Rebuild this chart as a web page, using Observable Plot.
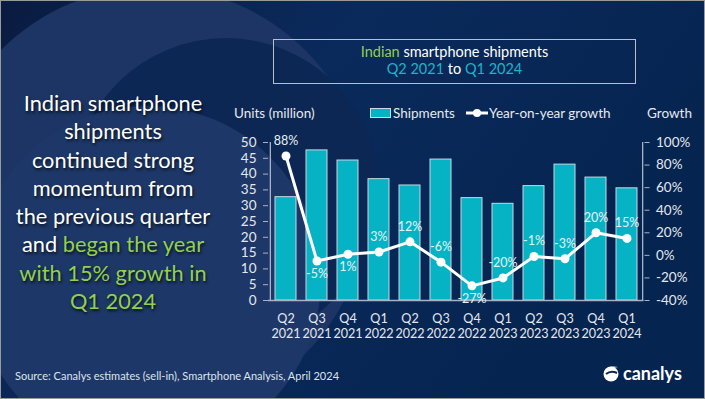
<!DOCTYPE html>
<html>
<head>
<meta charset="utf-8">
<script src="https://cdn.jsdelivr.net/npm/d3@7"></script>
<script src="https://cdn.jsdelivr.net/npm/@observablehq/plot@0.6"></script>
<style>
html,body{margin:0;padding:0;background:#0a2756;}
#wrap{position:relative;width:705px;height:399px;overflow:hidden;font-family:Lato,"Open Sans",sans-serif;color:#fff;}
#wrap > *{position:absolute;}
#bg{left:0;top:0;}
#chart{left:0;top:0;width:705px;height:399px;}
#lead{left:0;top:89px;width:226px;text-align:center;font-size:21.8px;line-height:28.3px;color:#fff;text-shadow:1px 2px 3px rgba(0,0,0,0.75);}
.g{color:#92d050;}
.t{color:#1db4c8;}
#titlebox{left:273px;top:39px;width:361px;border:1.5px solid #b9bec8;text-align:center;font-size:14.5px;line-height:16.5px;padding-top:4px;box-sizing:content-box;height:39px;}
.leg{top:104px;font-size:13.5px;color:#e6e9ef;line-height:18px;white-space:nowrap;}
#foot{left:15px;top:369px;font-size:11px;color:#dfe3ea;white-space:nowrap;}
#logo{left:602px;top:362px;display:flex;align-items:center;gap:3px;font-size:18px;font-weight:700;color:#fff;}
#frame{left:0;top:0;width:703px;height:397px;border:1px solid #9a9a9a;pointer-events:none;}
</style>
</head>
<body>
<div id="wrap">
<svg id="bg" width="705" height="399">
  <defs>
    <linearGradient id="base" x1="0" y1="0" x2="1" y2="0.4">
      <stop offset="0" stop-color="#0a1b40"/>
      <stop offset="0.45" stop-color="#0a2a5c"/>
      <stop offset="1" stop-color="#05244f"/>
    </linearGradient>
  </defs>
  <rect width="705" height="399" fill="url(#base)"/>
  <circle cx="153" cy="202" r="215" fill="#1c3565"/>
  <circle cx="226" cy="191" r="153" fill="#0c2753"/>
  <circle cx="147" cy="280" r="174" fill="#1d3868"/>
</svg>
<div id="chart"></div>
<div id="lead">Indian smartphone<br>shipments<br>continued strong<br>momentum from<br>the previous quarter<br>and <span class="g">began the year<br>with 15% growth in<br>Q1 2024</span></div>
<div id="titlebox"><span class="g">Indian</span> smartphone shipments<br><span class="t">Q2 2021</span> to <span class="t">Q1 2024</span></div>
<div class="leg" style="left:234px;">Units (million)</div>
<div class="leg" style="left:370px;display:flex;align-items:center;"><span style="display:inline-block;width:19px;height:8px;background:#06b3c4;border:1px solid #c9dbe5;margin-right:2px;"></span>Shipments</div>
<div class="leg" style="left:466px;display:flex;align-items:center;"><svg width="22" height="10" style="margin-right:1px"><line x1="0" y1="5" x2="22" y2="5" stroke="#fff" stroke-width="3"/><circle cx="11" cy="5" r="4" fill="#fff"/></svg>Year-on-year growth</div>
<div class="leg" style="left:647px;">Growth</div>
<div id="foot">Source: Canalys estimates (sell-in), Smartphone Analysis, April 2024</div>
<div id="logo"><svg width="18" height="18" viewBox="0 0 18 18"><circle cx="9" cy="10" r="7.5" fill="#fff"/><path d="M2 8 Q6 1 16 3 Q8 4 6 9 Z" fill="#fff"/><path d="M4 10 Q9 6 15 9" stroke="#0a2756" stroke-width="2" fill="none"/></svg><span>canalys</span></div>
<div id="frame"></div>
</div>
<script>
// ---- data ----
const quarters = ["Q2 2021","Q3 2021","Q4 2021","Q1 2022","Q2 2022","Q3 2022","Q4 2022","Q1 2023","Q2 2023","Q3 2023","Q4 2023","Q1 2024"];
const shipments = [32.7, 47.5, 44.3, 38.4, 36.4, 44.6, 32.4, 30.6, 36.2, 43.0, 38.9, 35.5];
const growth = [88, -5, 1, 3, 12, -6, -27, -20, -1, -3, 20, 15];
const unitTicks = [0, 5, 10, 15, 20, 25, 30, 35, 40, 45, 50];
const growthTicks = [-40, -20, 0, 20, 40, 60, 80, 100];

// ---- layout ----
const W = 705, H = 399, ML = 268, MR = 61.5, MT = 142, MB = 99;
const step = (W - ML - MR) / quarters.length;
const uMin = 0, uMax = 50, gMin = -40, gMax = 100;
const toU = g => (g - gMin) * (uMax - uMin) / (gMax - gMin);
const fromU = u => Math.round(u * (gMax - gMin) / (uMax - uMin) + gMin);
const axisColor = "#a9b3c4";
const textColor = "#e4e8ee";
const below = new Set(["Q3 2021", "Q4 2021", "Q4 2022"]);

const data = quarters.map((q, i) => ({q, units: shipments[i], g: growth[i]}));

const plot = Plot.plot({
  width: W, height: H,
  marginLeft: ML, marginRight: MR, marginTop: MT, marginBottom: MB,
  style: {background: "transparent", fontFamily: "Lato, 'Open Sans', sans-serif", color: textColor, overflow: "visible"},
  x: {domain: quarters, paddingInner: 0.33, paddingOuter: 0.165},
  y: {domain: [uMin, uMax]},
  marks: [
    Plot.barY(data, {x: "q", y: "units", fill: "#06b3c4", stroke: "#c6d8e3", strokeWidth: 1}),
    Plot.ruleY([0], {stroke: axisColor, strokeWidth: 1.3}),
    Plot.ruleX([quarters[0]], {y1: uMin, y2: uMax, dx: -step / 2, stroke: axisColor, strokeWidth: 1.3}),
    Plot.ruleX([quarters[quarters.length - 1]], {y1: uMin, y2: uMax, dx: step / 2, stroke: axisColor, strokeWidth: 1.3}),
    Plot.axisY(unitTicks, {anchor: "left", tickSize: 5, tickPadding: 7, fontSize: 13.5, label: null, stroke: axisColor, fill: textColor}),
    Plot.axisY(growthTicks.map(toU), {anchor: "right", tickSize: 5, tickPadding: 7, fontSize: 13.5, label: null, stroke: axisColor, fill: textColor, tickFormat: d => fromU(d) + "%"}),
    Plot.axisX(quarters, {tickSize: 0, tickPadding: 12, fontSize: 12.6, lineHeight: 1.2, label: null, fill: textColor, tickFormat: d => d.replace(" ", "\n")}),
    Plot.line(data, {x: "q", y: d => toU(d.g), stroke: "#ffffff", strokeWidth: 3}),
    Plot.dot(data, {x: "q", y: d => toU(d.g), r: 4.5, fill: "#ffffff", stroke: "none"}),
    Plot.text(data.filter(d => !below.has(d.q)), {x: "q", y: d => toU(d.g), text: d => d.g + "%", dy: -15, fontSize: 12.5, fill: "#e6f1f5"}),
    Plot.text(data.filter(d => below.has(d.q)), {x: "q", y: d => toU(d.g), text: d => d.g + "%", dy: 13, fontSize: 12.5, fill: "#e6f1f5"})
  ]
});
document.getElementById("chart").appendChild(plot);
</script>
</body>
</html>
